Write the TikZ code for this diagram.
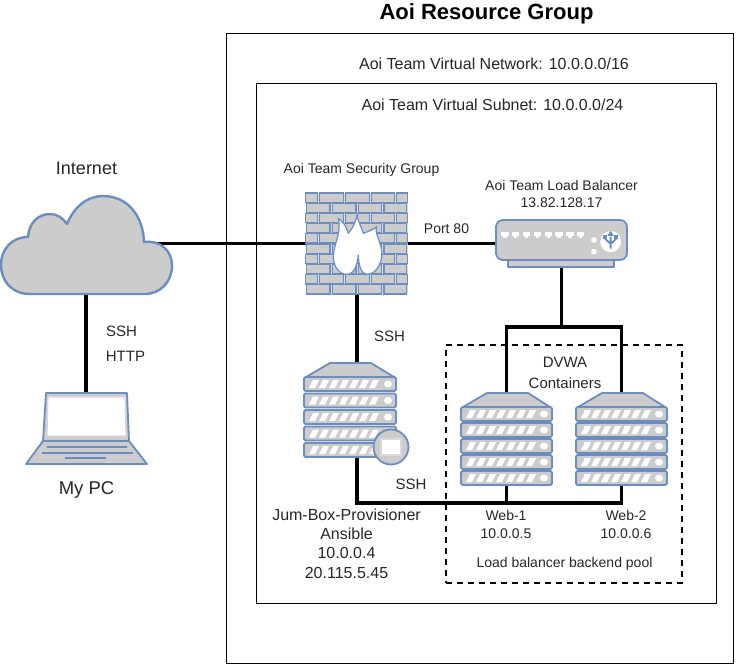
\documentclass[tikz,border=0pt]{standalone}
\usepackage{fontspec}
\setmainfont{Liberation Sans}
\definecolor{iconblue}{HTML}{6C8EBF}
\definecolor{icongray}{HTML}{CCCCCC}
\tikzset{
  link/.style={line width=3.2pt,black},
  frame/.style={draw=black,line width=1pt,fill=none},
  label/.style={inner sep=0pt,align=center,text=black!85,font=\fontsize{14}{17.5}\selectfont},
  biglabel/.style={label,font=\fontsize{16}{19.3}\selectfont},
  iconbox/.style={inner sep=0pt,draw=none,fill=none},
  iconline/.style={draw=iconblue,line width=1.8pt,line join=round},
  iconfill/.style={iconline,fill=icongray},
}
\newcommand{\srvrow}[3]{% y, height, width
  \draw[iconfill,rounded corners=1.5pt] (0,#1) rectangle (#3,#1+#2);
  \foreach \k in {0,...,6}{
    \fill[white] (5+10*\k,#1+#2-3) -- (9+10*\k,#1+3) -- (15+10*\k,#1+3) -- (11+10*\k,#1+#2-3) -- cycle;
  }
  \fill[white] (#3-8,#1+#2/2) ellipse (4 and 3.5);
}
\newcommand{\srvicon}[5]{% x,y,width,rowh,pitch
  \begin{scope}[shift={(#1,#2)}]
    \draw[iconfill] (2,14) -- (26,0) -- (67,0) -- (#3-2,14) -- cycle;
    \foreach \r in {0,...,4}{
      \pgfmathsetmacro{\ry}{14+\r*#5}
      \srvrow{\ry}{#4}{#3}
    }
  \end{scope}
}
\begin{document}
\begin{tikzpicture}[x=1pt,y=-1pt]
\useasboundingbox (0,0) rectangle (747,664);
% frames
\node[frame,minimum width=507pt,minimum height=630pt,inner sep=0pt] (group) at (479.5,348.5) {};
\node[frame,minimum width=460pt,minimum height=520pt,inner sep=0pt] (subnet) at (486,343) {};
\node[draw=black,line width=1.5pt,dashed,dash pattern=on 6pt off 5pt,minimum width=236pt,minimum height=238pt,inner sep=0pt] (pool) at (564,464) {};

% anchors for icons
\node[iconbox,minimum width=171pt,minimum height=98pt] (cloud) at (86,245) {};
\node[iconbox,minimum width=121pt,minimum height=72pt] (laptop) at (86,428) {};
\node[iconbox,minimum width=102pt,minimum height=101pt] (fw) at (357,243.5) {};
\node[iconbox,minimum width=131pt,minimum height=47pt] (lb) at (561.5,243.5) {};
\node[iconbox,minimum width=91pt,minimum height=91pt] (web1) at (506.5,438.5) {};
\node[iconbox,minimum width=91pt,minimum height=91pt] (web2) at (621.5,438.5) {};
\node[iconbox,minimum width=92pt,minimum height=94pt] (jump) at (357,410) {};
\coordinate (cloudport) at (156,243.5);
\coordinate (lbsplit) at (561.5,327);
\coordinate (jumpbus) at (357,503);

% connectors
\draw[link] (cloudport) -- (fw.west);
\draw[link] (fw.east) -- (lb.west);
\draw[link] (fw.south) -- (jump.north);
\draw[link] (cloud.south) -- (laptop.north);
\draw[link] (lb.south) -- (lbsplit);
\draw[link] (web1.north) |- (lbsplit) -| (web2.north);
\draw[link,line join=miter] (jump.south) -- (jumpbus) -| (web2.south);
\draw[link] (web1.south) -- (web1.south |- jumpbus);

% cloud
\draw[iconblue,line width=2.4pt,fill=icongray,line join=round]
  (30,294) .. controls (12,294) and (1,281) .. (1,265)
  .. controls (1,249) and (12,237) .. (28,237)
  .. controls (29,223) and (38,214) .. (50,214)
  .. controls (57,214) and (63,218) .. (67,224)
  .. controls (74,207) and (87,196) .. (103,196)
  .. controls (127,196) and (143,215) .. (144,242)
  .. controls (160,240) and (172,250) .. (172,266)
  .. controls (172,282) and (160,294) .. (145,294) -- cycle;

% laptop
\draw[iconfill] (46,393) -- (127,393) -- (129,441) -- (147,464) -- (26,464) -- (43,441) -- cycle;
\draw[iconblue,line width=1.4pt] (43,441) -- (129,441);
\draw[draw=white!85!black,line width=1.2pt,fill=white] (48,397) -- (125,397) -- (126,436) -- (47,436) -- cycle;
\draw[iconblue,line width=1.4pt] (47,447) -- (127,447) (42,453) -- (133,453) (65,458) -- (106,458);

% firewall
\begin{scope}[shift={(280,170)},x=0.3333pt,y=-0.3333pt]
  \fill[iconblue!30] (77,68) rectangle (383,373);
  \foreach \r in {0,2,4,6,8}{
    \foreach \a/\b in {77/112,118/190,196/268,274/343,349/383}{
      \draw[iconblue,line width=1.3pt,fill=icongray] (\a,{69+\r*30.6}) rectangle (\b,{69+\r*30.6+28});
    }
  }
  \foreach \r in {1,3,5,7,9}{
    \foreach \a/\b in {80/150,157/228,235/305,312/380}{
      \draw[iconblue,line width=1.3pt,fill=icongray] (\a,{69+\r*30.6}) rectangle (\b,{69+\r*30.6+28});
    }
  }
  \draw[iconblue,line width=1.2pt,fill=white,line join=round]
    (232,132) .. controls (232,155) and (245,170) .. (250,190)
    .. controls (262,185) and (280,180) .. (290,170)
    .. controls (282,195) and (310,220) .. (305,262)
    .. controls (300,295) and (280,313) .. (262,313)
    .. controls (245,313) and (236,290) .. (235,255)
    .. controls (232,285) and (222,313) .. (200,313)
    .. controls (178,313) and (160,290) .. (160,260)
    .. controls (160,225) and (185,190) .. (175,145)
    .. controls (190,155) and (200,172) .. (205,190)
    .. controls (218,175) and (228,155) .. (232,132) -- cycle;
\end{scope}

% load balancer
\draw[iconfill] (508,258) rectangle (614,267);
\draw[iconfill,rounded corners=7pt] (496,220) rectangle (627,260);
\begin{scope}[shift={(280,170)},x=0.3333pt,y=-0.3333pt]
  \foreach \k in {0,...,7}{
    \fill[white] ({664+32.5*\k},186) rectangle ({686+32.5*\k},198);
    \fill[white] ({670+32.5*\k},198) rectangle ({680+32.5*\k},204);
  }
  \fill[white] (942,210) circle (8.5);
  \fill[white] (942,245) circle (8.5);
  \fill[white] (992,215) ellipse (31 and 32);
  \draw[iconblue,line width=1.8pt] (992,200) -- (992,236) (992,222) -- (974,205) (992,222) -- (1010,205);
  \fill[iconblue] (992,182) -- (1002,198) -- (982,198) -- cycle;
  \fill[iconblue] (970,196) rectangle (982,208);
  \fill[iconblue] (1002,196) rectangle (1014,208);
\end{scope}

% servers
\srvicon{461}{393}{91}{14}{16}
\srvicon{576}{393}{91}{14}{16}
\srvicon{304}{363}{92}{14}{16.5}
\draw[iconblue,line width=1.8pt,fill=icongray] (391,447) circle (17.5);
\draw[draw=white!85!black,line width=1.2pt,fill=white] (381,439) rectangle (401,455);

% texts
\node[inner sep=0pt,font=\bfseries\fontsize{22}{26}\selectfont] (title) at (486.5,14) {Aoi Resource Group};
\node[biglabel] (tnet) at (494,64) {Aoi Team Virtual Network: 10.0.0.0/16};
\node[biglabel] (tsub) at (492.5,104.5) {Aoi Team Virtual Subnet: 10.0.0.0/24};
\node[label,font=\fontsize{18}{21}\selectfont] (tinet) at (86.5,168) {Internet};
\node[label] (tsg) at (361.5,170) {Aoi Team Security Group};
\node[label] (tlb) at (561.5,194) {Aoi Team Load Balancer\\13.82.128.17};
\node[label] (tport) at (446.5,229) {Port 80};
\node[label,font=\fontsize{15}{18}\selectfont] (tssh1) at (389.5,336) {SSH};
\node[label,font=\fontsize{15}{18}\selectfont] (tssh2) at (411,484) {SSH};
\node[label,font=\fontsize{15}{18}\selectfont] (tssh3) at (121.5,331) {SSH};
\node[label,font=\fontsize{15}{18}\selectfont] (thttp) at (125.5,356) {HTTP};
\node[label,font=\fontsize{18.5}{21}\selectfont] (tpc) at (86.5,489.5) {My PC};
\node[label,font=\fontsize{15}{20.5}\selectfont] (tdvwa) at (565,373) {DVWA\\Containers};
\node[biglabel] (tjump) at (346.5,543.5) {Jum-Box-Provisioner\\Ansible\\10.0.0.4\\20.115.5.45};
\node[label,font=\fontsize{14}{18}\selectfont] (tw1) at (506,524.5) {Web-1\\10.0.0.5};
\node[label,font=\fontsize{14}{18}\selectfont] (tw2) at (626,524.5) {Web-2\\10.0.0.6};
\node[label] (tpool) at (564.5,564) {Load balancer backend pool};
\end{tikzpicture}
\end{document}
